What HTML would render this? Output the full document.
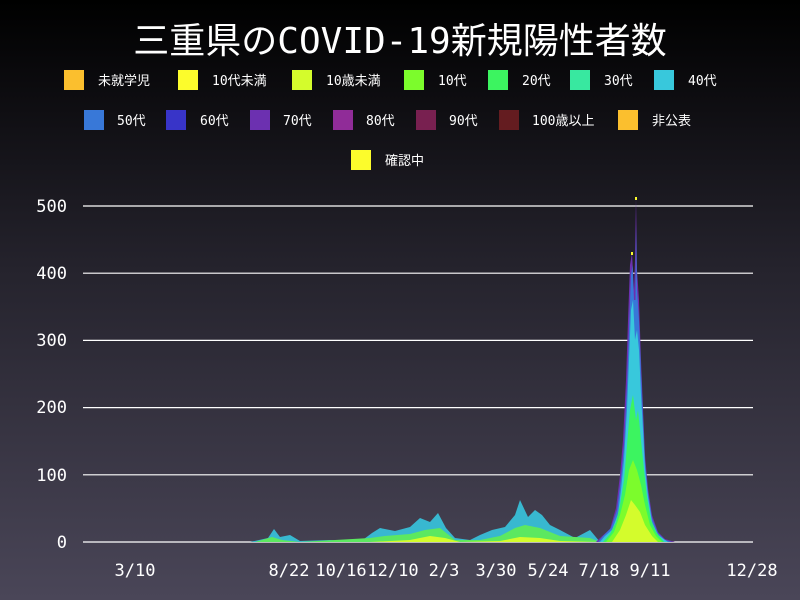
<!DOCTYPE html>
<html><head><meta charset="utf-8"><style>
body{margin:0;width:800px;height:600px;overflow:hidden;background:linear-gradient(#000 0%,#25232d 45%,#4a4658 100%);font-family:"DejaVu Sans Mono","Noto Sans CJK JP",monospace;}
svg{position:absolute;left:0;top:0}
</style></head><body>
<svg width="800" height="600" xmlns="http://www.w3.org/2000/svg" font-family="DejaVu Sans Mono, Noto Sans CJK JP, monospace">
<text x="400" y="53" fill="#fff" font-size="36" text-anchor="middle">三重県のCOVID-19新規陽性者数</text>
<g font-size="13" fill="#fff">
<rect x="64" y="70" width="20" height="20" fill="#fbbf2e"/><text x="98" y="85">未就学児</text>
<rect x="178" y="70" width="20" height="20" fill="#fcfc2c"/><text x="212" y="85">10代未満</text>
<rect x="292" y="70" width="20" height="20" fill="#d4fc2c"/><text x="326" y="85">10歳未満</text>
<rect x="404" y="70" width="20" height="20" fill="#7cfc2c"/><text x="438" y="85">10代</text>
<rect x="488" y="70" width="20" height="20" fill="#3cf460"/><text x="522" y="85">20代</text>
<rect x="570" y="70" width="20" height="20" fill="#38e8a0"/><text x="604" y="85">30代</text>
<rect x="654" y="70" width="20" height="20" fill="#38c8dc"/><text x="688" y="85">40代</text>
<rect x="84" y="110" width="20" height="20" fill="#3878d8"/><text x="117" y="125">50代</text>
<rect x="166" y="110" width="20" height="20" fill="#3834c8"/><text x="200" y="125">60代</text>
<rect x="250" y="110" width="20" height="20" fill="#6c30b0"/><text x="283" y="125">70代</text>
<rect x="333" y="110" width="20" height="20" fill="#902c98"/><text x="366" y="125">80代</text>
<rect x="416" y="110" width="20" height="20" fill="#782050"/><text x="449" y="125">90代</text>
<rect x="499" y="110" width="20" height="20" fill="#641c20"/><text x="532" y="125">100歳以上</text>
<rect x="618" y="110" width="20" height="20" fill="#fbbf2e"/><text x="652" y="125">非公表</text>
<rect x="351" y="150" width="20" height="20" fill="#fcfc2c"/><text x="385" y="165">確認中</text>
</g>
<g stroke="#fff" stroke-width="1.2">
<line x1="83" x2="753" y1="206" y2="206"/><line x1="83" x2="753" y1="273.2" y2="273.2"/><line x1="83" x2="753" y1="340.4" y2="340.4"/><line x1="83" x2="753" y1="407.6" y2="407.6"/><line x1="83" x2="753" y1="474.8" y2="474.8"/><line x1="83" x2="753" y1="542" y2="542"/>
</g>
<g font-size="17" fill="#fff" text-anchor="end">
<text x="67" y="212">500</text><text x="67" y="279">400</text><text x="67" y="346">300</text><text x="67" y="413">200</text><text x="67" y="481">100</text><text x="67" y="548">0</text>
</g>
<g font-size="17" fill="#fff" text-anchor="middle">
<text x="135" y="576">3/10</text><text x="289" y="576">8/22</text><text x="341" y="576">10/16</text><text x="393" y="576">12/10</text><text x="444" y="576">2/3</text><text x="496" y="576">3/30</text><text x="548" y="576">5/24</text><text x="599" y="576">7/18</text><text x="650" y="576">9/11</text><text x="752" y="576">12/28</text>
</g>
<!-- small waves -->
<polygon fill="#38b8d0" points="250,542 268,538 274,529 280,537 290,535 300,541 330,540 360,542 372,533 380,528 395,531 410,527 420,518 430,522 438,513 446,528 455,538 470,540 480,535 492,530 505,527 515,515 520,500 528,517 535,510 542,515 550,525 560,530 575,538 590,530 600,542"/>
<polygon fill="#5ce860" points="255,542 272,537 282,540 300,542 370,538 385,536 410,534 425,530 440,528 455,540 480,540 500,536 515,528 525,525 540,528 560,536 590,538 600,542"/>
<polygon fill="#d4fc2c" points="370,542 410,540 430,536 445,538 460,542 500,541 520,537 540,538 560,541 600,542"/>
<!-- main peak -->
<polygon fill="#6c30b0" points="596,542 600,538 610,529 616,508 620,475 623,440 626,380 628,320 630,265 632,253 634,290 635,260 636,198 637,270 639,300 641,360 643,408 645,455 648,488 652,515 658,532 665,539 675,542"/>
<polygon fill="#3878d8" points="598,542 603,536 611,528 617,510 621,478 624,445 627,385 629,330 631,275 632.5,265 634,300 635.5,300 636,225 637,290 639,320 641,370 643,415 645,460 648,492 652,518 658,533 665,540 672,542"/>
<polygon fill="#38c8dc" points="600,542 605,536 612,530 618,514 621,490 624,460 627,410 629,360 631,310 633,300 635,340 637,330 639,350 641,395 643,430 645,468 648,497 652,522 658,535 668,542"/>
<polygon fill="#3cf460" points="603,542 610,534 616,522 620,505 624,480 627,445 630,410 633,395 636,420 638,410 641,440 644,470 647,497 651,520 656,532 664,542"/>
<polygon fill="#7cfc2c" points="606,542 614,532 620,515 625,495 629,470 633,460 637,470 641,485 645,505 650,525 656,536 662,542"/>
<polygon fill="#d4fc2c" points="612,542 620,530 626,515 631,500 635,505 640,512 645,525 652,536 658,542"/>
<rect x="635" y="197" width="2" height="3" fill="#fcfc2c"/>
<rect x="631" y="252" width="2" height="3" fill="#fcfc2c"/>
</svg>
</body></html>
